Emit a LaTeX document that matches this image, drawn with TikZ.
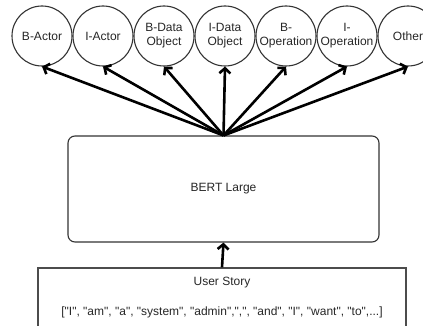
\documentclass[tikz,border=0pt]{standalone}
\usepackage{fontspec}
\newfontfamily\arialf{Liberation Sans}
\usetikzlibrary{arrows.meta}
\tikzset{
  txt/.style={font={\arialf\fontsize{12}{14}\selectfont}, text=black!85, align=center},
  tag/.style={txt, circle, draw=black!80, line width=1.1pt, minimum size=60pt, inner sep=0pt},
  bertbox/.style={txt, draw=black!80, line width=1.1pt, rounded corners=7pt, minimum width=311pt, minimum height=106pt},
  storybox/.style={draw=black!70, line width=1.4pt, minimum width=368pt, minimum height=64pt, inner sep=0pt},
  arr/.style={draw=black, line width=2.6pt, -{Straight Barb[length=5pt,width=11pt]}}
}
\begin{document}
\begin{tikzpicture}[x=1pt,y=-1pt]
\useasboundingbox (0,0) rectangle (423,326);
\node[tag] (c1) at (42,36) {B-Actor};
\node[tag] (c2) at (103,36) {I-Actor};
\node[tag] (c3) at (164,36) {B-Data\\Object};
\node[tag] (c4) at (225,36) {I-Data\\Object};
\node[tag] (c5) at (286,36) {B-\\Operation};
\node[tag] (c6) at (347,36) {I-\\Operation};
\node[tag] (c7) at (408,36) {Other};
\node[bertbox] (bert) at (223.5,189) {BERT Large};
\node[storybox] (story) at (222,300) {};
\node[txt] (storytitle) at (222,283) {User Story};
\node[txt] (storylist) at (222,312) {["I", "am", "a", "system", "admin",",", "and", "I", "want", "to",...]};
\foreach \c in {c1,c2,c3,c4,c5,c6,c7} { \draw[arr] (bert.north) -- (\c.south); }
\draw[arr] (story.north) -- (bert.south);
\end{tikzpicture}
\end{document}
